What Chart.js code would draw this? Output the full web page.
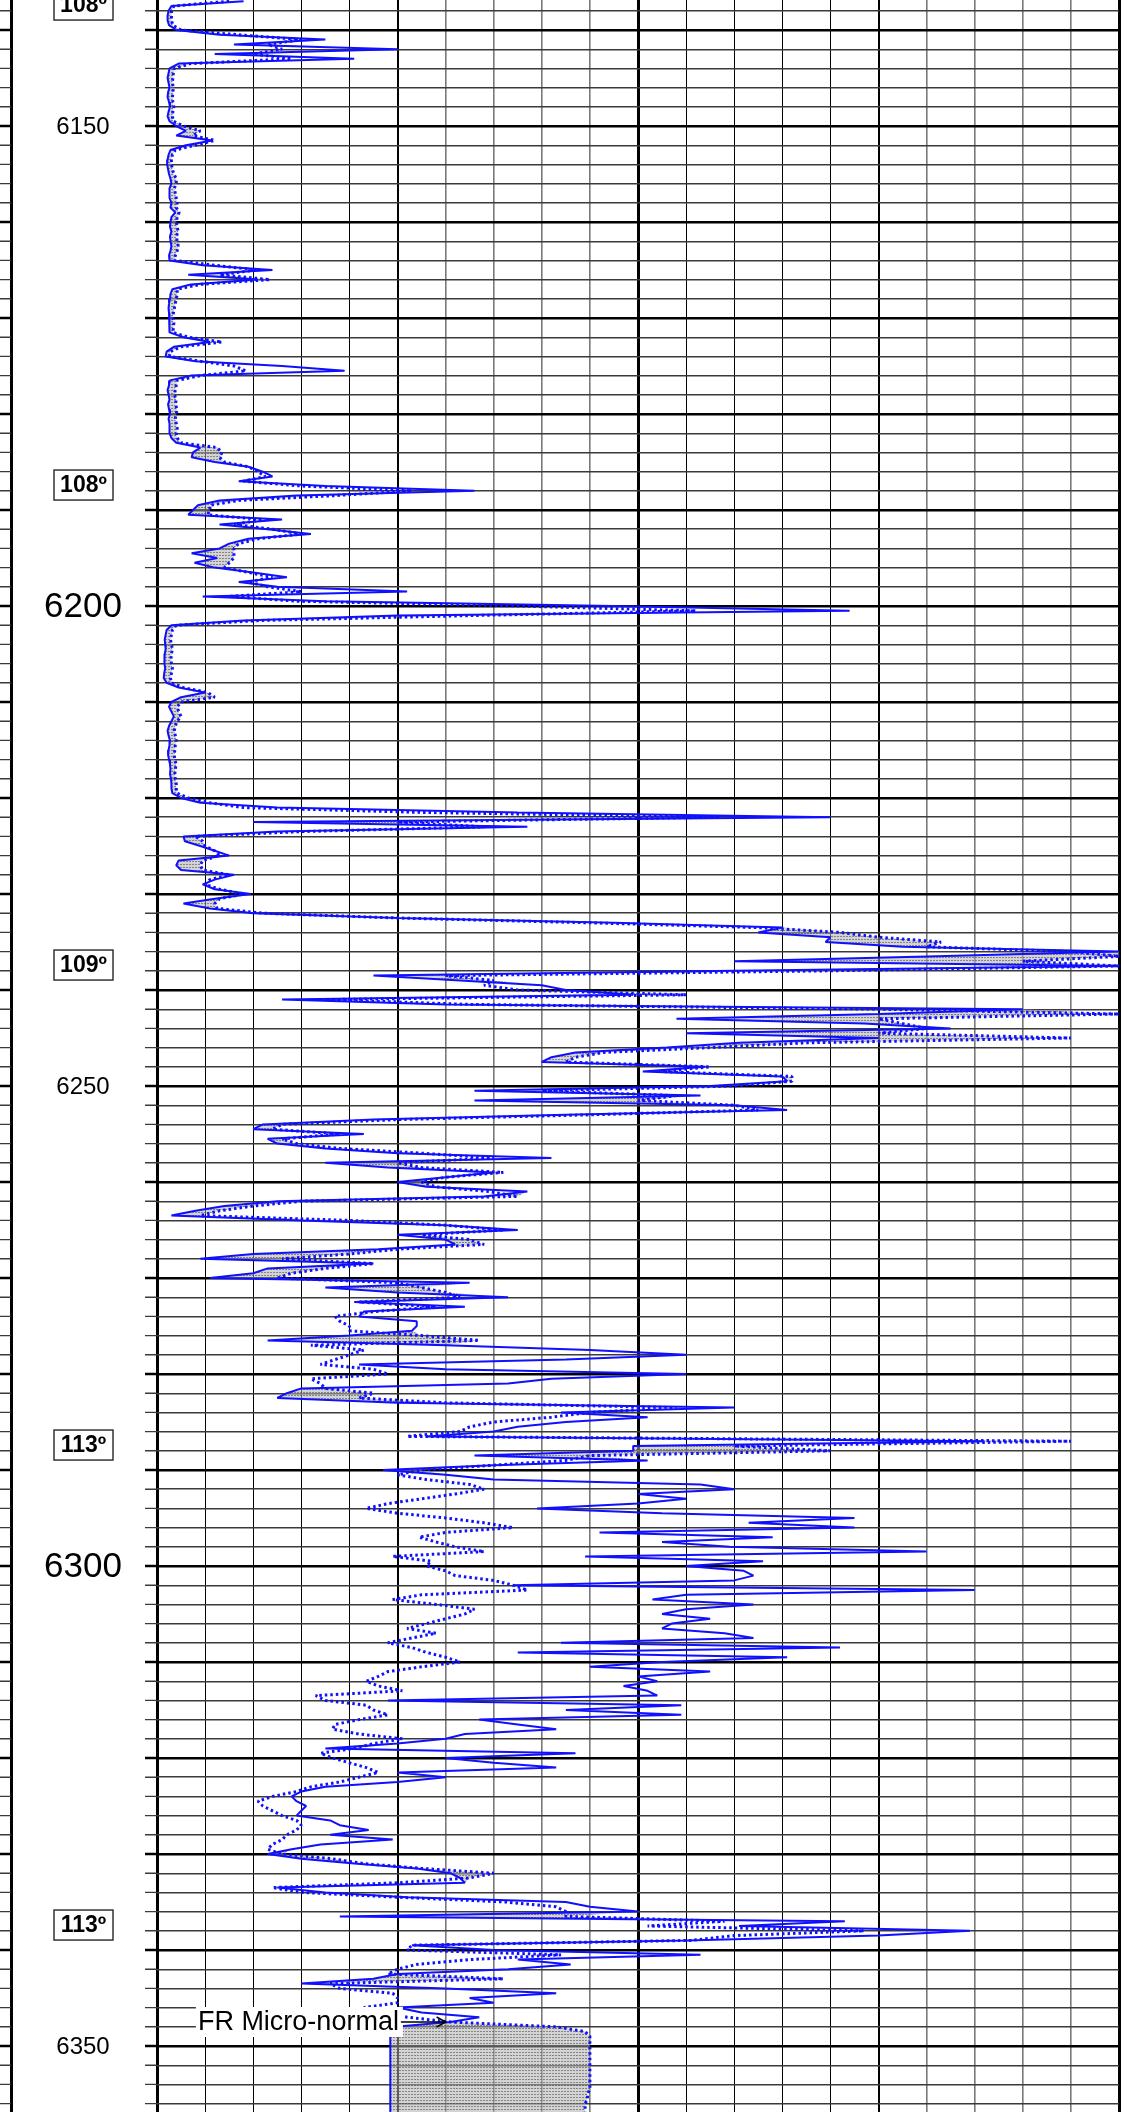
<!DOCTYPE html>
<html lang="en">
<head>
<meta charset="UTF-8">
<title>Microlog 6137 - 6357</title>
<script src="https://cdn.jsdelivr.net/npm/chart.js@4.4.1/dist/chart.umd.min.js"></script>
<style>
  html, body { margin: 0; padding: 0; background: #fff; }
  .log-container { position: relative; width: 1143px; height: 2112px; }
</style>
</head>
<body>
<div class="log-container"><canvas id="logChart"></canvas></div>
<script>
// samples every 0.5 ft, first sample at 6137.0
const DEPTH_TOP = 6137.0;
const DEPTH_STEP = 0.5;
const VIEW_TOP = 6136.875;
const VIEW_BOTTOM = 6356.875;

// micro-inverse (solid), one row = 5 ft
const microInverse = [
  1.8, 0.3, 0.24, 0.22, 0.22, 0.25, 0.4, 1.3, 3.5, 1.6,          // 6137
  5.0, 1.2, 4.1, 0.45, 0.26, 0.24, 0.22, 0.24, 0.26, 0.23,      // 6142
  0.22, 0.25, 0.27, 0.24, 0.22, 0.26, 0.4, 0.6, 0.4, 1.15,      // 6147
  0.6, 0.28, 0.24, 0.22, 0.21, 0.23, 0.25, 0.28, 0.3, 0.26,     // 6152
  0.25, 0.27, 0.3, 0.28, 0.38, 0.3, 0.28, 0.27, 0.3, 0.27,      // 6157
  0.28, 0.3, 0.28, 0.25, 0.26, 0.95, 2.4, 0.65, 2.1, 0.7,       // 6162
  0.32, 0.28, 0.27, 0.25, 0.24, 0.25, 0.26, 0.27, 0.26, 0.25,   // 6167
  0.55, 1.1, 0.35, 0.2, 0.18, 0.8, 2.6, 3.9, 0.7, 0.27,         // 6172
  0.25, 0.22, 0.24, 0.26, 0.23, 0.25, 0.27, 0.24, 0.26, 0.25,   // 6177
  0.27, 0.3, 0.4, 0.9, 0.75, 0.72, 1.2, 1.9, 2.2, 2.4,          // 6182
  1.7, 3.5, 6.6, 2.9, 1.3, 0.85, 0.75, 0.65, 2.6, 1.3,          // 6187
  2.3, 3.2, 1.9, 1.5, 1.3, 0.72, 1.25, 0.78, 1.2, 2.0,          // 6192
  2.7, 1.7, 2.5, 5.2, 0.95, 3.5, 9.5, 14.4, 5.0, 1.8,           // 6197
  0.3, 0.2, 0.18, 0.16, 0.17, 0.18, 0.16, 0.15, 0.16, 0.17,     // 6202
  0.15, 0.14, 0.2, 0.45, 1.0, 0.5, 0.3, 0.25, 0.3, 0.35,        // 6207
  0.3, 0.25, 0.22, 0.24, 0.27, 0.26, 0.24, 0.23, 0.25, 0.27,    // 6212
  0.28, 0.27, 0.29, 0.3, 0.3, 0.32, 0.5, 0.9, 2.5, 7.5,         // 6217
  14.0, 2.0, 7.7, 2.5, 0.55, 0.58, 0.9, 1.2, 1.5, 0.45,         // 6222
  0.4, 0.5, 1.6, 1.2, 0.95, 1.2, 1.95, 1.2, 0.55, 1.1,          // 6227
  2.0, 5.0, 9.5, 13.0, 12.5, 14.0, 13.9, 15.5, 20.0, 16.0,      // 6232
  12.0, 20.0, 12.0, 4.5, 6.3, 8.0, 8.5, 9.9, 2.6, 6.0,          // 6237
  18.0, 15.0, 10.8, 14.7, 16.5, 11.0, 15.0, 12.1, 10.6, 8.7,    // 6242
  8.2, 8.0, 11.4, 10.1, 13.0, 13.1, 11.5, 6.6, 11.3, 6.6,       // 6247
  12.0, 13.1, 8.5, 4.5, 2.2, 2.0, 4.3, 2.3, 2.5, 3.5,           // 6252
  5.0, 8.2, 3.5, 4.8, 7.0, 6.0, 5.0, 5.6, 7.7, 6.8,             // 6257
  2.5, 1.4, 0.8, 0.3, 3.0, 6.0, 7.5, 5.0, 6.0, 6.2,             // 6262
  4.6, 2.0, 0.9, 4.5, 2.3, 2.0, 1.1, 6.5, 3.5, 5.0,             // 6267
  7.3, 4.1, 6.4, 4.3, 4.2, 5.4, 5.4, 5.3, 4.0, 2.3,             // 6272
  6.0, 9.0, 11.0, 8.5, 4.2, 6.0, 11.0, 8.2, 7.3, 3.0,           // 6277
  2.7, 2.5, 5.0, 12.0, 8.4, 10.2, 8.5, 7.5, 7.0, 5.6,           // 6282
  17.2, 9.9, 9.9, 6.6, 10.2, 7.0, 4.7, 6.0, 7.0, 11.3,          // 6287
  12.0, 10.0, 11.0, 10.0, 7.9, 10.5, 14.5, 12.3, 14.5, 9.2,     // 6292
  12.8, 10.5, 11.9, 16.0, 8.9, 12.6, 11.0, 12.2, 12.4, 12.0,    // 6297
  7.4, 17.0, 11.0, 10.3, 12.4, 11.0, 10.5, 11.5, 10.7, 10.5,    // 6302
  11.8, 12.4, 8.4, 14.2, 7.5, 13.1, 10.5, 9.0, 11.5, 10.0,      // 6307
  10.4, 9.7, 10.2, 10.4, 4.8, 10.9, 8.5, 10.9, 6.7, 7.5,        // 6312
  8.3, 6.4, 6.0, 5.0, 3.5, 8.7, 6.0, 7.0, 8.3, 5.0,             // 6317
  6.0, 5.0, 3.5, 3.0, 2.8, 2.9, 3.1, 3.0, 2.9, 3.6,             // 6322
  3.8, 4.4, 3.6, 4.9, 3.4, 2.8, 2.3, 3.0, 4.1, 5.4,             // 6327
  6.1, 6.3, 6.4, 2.5, 3.5, 5.2, 8.5, 9.0, 10.0, 3.8,            // 6332
  14.3, 12.1, 16.9, 15.0, 11.0, 5.3, 7.0, 11.3, 7.5, 8.6,       // 6337
  7.3, 5.0, 4.5, 3.0, 6.0, 8.3, 6.5, 7.0, 5.0, 5.5,             // 6342
  6.7, 6.1, 4.95, 4.88, 4.85, 4.85, 4.85, 4.85, 4.85, 4.85,     // 6347
  4.85, 4.85, 4.85, 4.85, 4.85, 4.85, 4.85, 4.85, 4.85, 4.85,   // 6352
  4.85                                                          // 6357
];

// micro-normal (dotted)
const microNormal = [
  1.5, 0.35, 0.3, 0.3, 0.3, 0.33, 0.5, 1.7, 3.0, 2.3,           // 6137
  2.6, 2.0, 2.8, 0.7, 0.36, 0.34, 0.33, 0.32, 0.34, 0.33,       // 6142
  0.32, 0.33, 0.35, 0.33, 0.32, 0.34, 0.55, 0.9, 0.75, 1.2,     // 6147
  0.8, 0.38, 0.32, 0.3, 0.3, 0.32, 0.35, 0.4, 0.4, 0.36,        // 6152
  0.38, 0.4, 0.42, 0.4, 0.46, 0.42, 0.4, 0.42, 0.44, 0.4,       // 6157
  0.42, 0.44, 0.42, 0.38, 0.36, 1.2, 2.05, 1.3, 2.35, 0.9,      // 6162
  0.42, 0.42, 0.4, 0.38, 0.36, 0.34, 0.33, 0.35, 0.34, 0.33,    // 6167
  0.65, 1.35, 0.5, 0.28, 0.26, 0.9, 1.6, 1.85, 0.9, 0.42,       // 6172
  0.4, 0.38, 0.36, 0.4, 0.38, 0.42, 0.4, 0.38, 0.4, 0.42,       // 6177
  0.4, 0.42, 0.5, 1.25, 1.35, 1.3, 1.4, 1.9, 2.1, 2.25,         // 6182
  1.8, 3.0, 5.3, 3.7, 1.7, 1.1, 1.1, 1.05, 2.2, 1.6,            // 6187
  2.4, 3.0, 2.1, 1.7, 1.6, 1.6, 1.6, 1.5, 1.4, 1.9,             // 6192
  2.4, 1.9, 2.3, 3.0, 1.5, 2.9, 7.5, 11.2, 6.5, 2.2,            // 6197
  0.4, 0.32, 0.3, 0.28, 0.3, 0.32, 0.3, 0.29, 0.3, 0.32,        // 6202
  0.3, 0.28, 0.3, 0.55, 1.05, 1.2, 0.5, 0.42, 0.45, 0.5,        // 6207
  0.42, 0.38, 0.36, 0.38, 0.4, 0.38, 0.37, 0.36, 0.37, 0.4,     // 6212
  0.38, 0.37, 0.38, 0.4, 0.4, 0.42, 0.65, 1.1, 1.8, 5.5,        // 6217
  11.7, 5.0, 6.8, 3.0, 0.8, 0.95, 1.0, 1.2, 1.3, 0.95,          // 6222
  0.9, 0.95, 1.5, 1.1, 1.0, 1.3, 1.8, 1.3, 1.2, 1.25,           // 6227
  2.2, 5.0, 9.0, 12.5, 14.2, 15.0, 16.3, 16.0, 19.0, 20.0,      // 6232
  18.0, 20.0, 14.0, 6.0, 7.0, 6.8, 7.5, 11.0, 3.5, 6.5,         // 6237
  15.0, 20.0, 15.0, 15.5, 16.0, 15.0, 19.0, 13.5, 11.5, 9.3,    // 6242
  8.7, 8.5, 11.5, 10.5, 13.2, 13.2, 12.0, 8.0, 10.8, 10.0,      // 6247
  12.0, 12.5, 9.0, 5.0, 2.6, 2.4, 3.8, 2.6, 2.9, 3.8,           // 6252
  5.5, 7.0, 5.0, 5.5, 7.2, 6.0, 5.5, 5.8, 6.9, 7.5,             // 6257
  3.0, 2.0, 1.3, 0.9, 4.0, 6.0, 7.2, 5.5, 6.5, 6.8,             // 6262
  5.0, 4.0, 2.6, 4.5, 3.5, 2.8, 2.5, 5.0, 5.5, 6.0,             // 6267
  6.3, 4.2, 5.8, 4.5, 3.7, 3.8, 4.0, 4.0, 5.5, 6.7,             // 6272
  3.2, 4.3, 4.0, 3.7, 3.4, 4.5, 4.8, 3.2, 3.4, 3.5,             // 6277
  4.5, 4.2, 6.0, 10.8, 9.0, 8.2, 7.0, 6.5, 6.3, 5.2,            // 6282
  19.0, 12.0, 14.0, 9.0, 8.5, 7.0, 5.5, 5.0, 5.6, 6.5,          // 6287
  6.8, 6.2, 5.5, 4.8, 4.35, 5.0, 6.0, 6.8, 7.4, 6.0,            // 6292
  5.45, 5.8, 6.2, 6.8, 4.9, 5.7, 5.6, 6.0, 6.2, 7.0,            // 6297
  7.4, 7.7, 5.5, 4.9, 5.8, 6.6, 6.4, 6.0, 5.6, 5.2,             // 6302
  5.8, 5.3, 4.8, 5.3, 5.6, 6.0, 6.3, 5.5, 4.8, 4.6,             // 6307
  4.35, 4.6, 5.1, 3.3, 3.5, 4.35, 4.5, 4.8, 4.2, 3.7,           // 6312
  3.65, 4.2, 5.1, 4.5, 4.1, 3.4, 3.65, 4.0, 4.35, 4.6,          // 6317
  4.2, 3.8, 3.2, 2.9, 2.4, 2.1, 2.2, 2.4, 2.6, 2.9,             // 6322
  3.0, 2.9, 2.7, 2.6, 2.4, 2.3, 2.6, 3.65, 4.3, 5.5,            // 6327
  7.0, 6.5, 5.0, 2.4, 3.0, 5.0, 7.25, 8.3, 8.5, 8.5,            // 6332
  11.8, 10.2, 14.7, 12.0, 11.1, 5.3, 5.2, 8.4, 6.5, 5.4,        // 6337
  5.0, 4.8, 7.2, 3.6, 3.8, 4.9, 5.0, 5.0, 4.3, 4.8,             // 6342
  5.2, 6.1, 8.3, 8.9, 9.0, 9.0, 9.0, 9.0, 9.0, 9.0,             // 6347
  9.0, 9.0, 9.0, 9.0, 9.0, 9.0, 8.95, 8.95, 8.9, 8.9,           // 6352
  8.9                                                           // 6357
];

// depth track annotations
const depthLabels = [6150, 6200, 6250, 6300, 6350];
const tempDepths = [6137.4, 6187.4, 6237.4, 6287.4, 6337.4];
const tempLabels = ['108º', '108º', '109º', '113º', '113º'];
const curveLabel = 'FR Micro-normal';

const depths = microInverse.map((_, i) => DEPTH_TOP + i * DEPTH_STEP);
const toPoints = vals => vals.map((v, i) => ({ x: v, y: depths[i] }));
// right-hand envelope, used only to shade where normal reads above inverse
const separation = microInverse.map((v, i) => Math.max(v, microNormal[i]));

function makeHatch() {
  const c = document.createElement('canvas');
  c.width = 3; c.height = 3;
  const g = c.getContext('2d');
  g.fillStyle = 'rgba(175,175,175,0.55)';
  g.fillRect(0, 0, 3, 3);
  g.fillStyle = 'rgba(70,70,70,0.55)';
  g.fillRect(0, 0, 2, 1);
  return g.createPattern(c, 'repeat');
}

const depthTrack = {
  id: 'depthTrack',
  afterDraw(chart) {
    const { ctx, chartArea, scales: { y } } = chart;
    const left = chartArea.left;
    ctx.save();
    ctx.fillStyle = '#000';
    ctx.fillRect(10, 0, 3, chart.height);

    for (let d = 6138; d <= 6356; d += 2) {
      const py = y.getPixelForValue(d);
      const heavy = d % 10 === 0;
      ctx.lineWidth = heavy ? 2.5 : 1.4;
      ctx.strokeStyle = heavy ? '#000' : '#3a3a3a';
      ctx.beginPath();
      ctx.moveTo(0, py); ctx.lineTo(11, py);
      ctx.moveTo(left - 12, py); ctx.lineTo(left, py);
      ctx.stroke();
    }

    ctx.fillStyle = '#000';
    ctx.textAlign = 'center';
    ctx.textBaseline = 'middle';
    depthLabels.forEach(d => {
      ctx.font = d % 100 === 0 ? '35px "Liberation Sans", Arial' : '24px "Liberation Sans", Arial';
      ctx.fillText(String(d), 83, y.getPixelForValue(d) + 1);
    });

    tempDepths.forEach((d, i) => {
      const cy = y.getPixelForValue(d);
      ctx.fillStyle = '#fff';
      ctx.fillRect(54, cy - 15, 59, 30);
      ctx.strokeStyle = '#333';
      ctx.lineWidth = 1.5;
      ctx.strokeRect(54, cy - 15, 59, 30);
      ctx.fillStyle = '#000';
      ctx.font = 'bold 23px "Liberation Sans", Arial';
      ctx.fillText(tempLabels[i], 83.5, cy + 1);
    });
    ctx.restore();
  },
  afterDatasetsDraw(chart) {
    const { ctx, scales: { x, y } } = chart;
    const ly = y.getPixelForValue(6347.5);
    const lx = x.getPixelForValue(0.85);
    ctx.save();
    ctx.font = '27px "Liberation Sans", Arial';
    ctx.textBaseline = 'middle';
    const w = ctx.measureText(curveLabel).width;
    ctx.fillStyle = '#fff';
    ctx.fillRect(lx - 2, ly - 15, w + 6, 30);
    ctx.fillStyle = '#000';
    ctx.fillText(curveLabel, lx, ly + 1);
    const ax0 = lx + w + 2, ax1 = x.getPixelForValue(6.0);
    ctx.strokeStyle = '#000';
    ctx.lineWidth = 1.5;
    ctx.beginPath();
    ctx.moveTo(ax0, ly); ctx.lineTo(ax1, ly);
    ctx.moveTo(ax1 - 9, ly - 5); ctx.lineTo(ax1, ly); ctx.lineTo(ax1 - 9, ly + 5);
    ctx.stroke();
    ctx.restore();
  }
};

function xGridColor(c) {
  const v = c.tick ? c.tick.value : 0;
  if (v % 5 === 0) return '#000';
  return (v > 5 && v < 10) || v > 15 ? '#7a7a7a' : '#000';
}
function xGridWidth(c) {
  const v = c.tick ? c.tick.value : 0;
  if (v % 10 === 0) return 3;
  if (v % 5 === 0) return 2;
  return (v > 5 && v < 10) || v > 15 ? 1.6 : 1;
}

new Chart(document.getElementById('logChart'), {
  type: 'line',
  data: {
    datasets: [
      {
        label: 'Micro-inverse',
        data: toPoints(microInverse),
        borderColor: '#1010ff',
        borderWidth: 2,
        fill: false,
        pointRadius: 0,
        tension: 0,
        borderJoinStyle: 'bevel'
      },
      {
        label: 'Micro-normal',
        data: toPoints(microNormal),
        borderColor: '#1010ff',
        borderWidth: 3,
        borderDash: [2.5, 3],
        fill: false,
        pointRadius: 0,
        tension: 0,
        borderJoinStyle: 'bevel'
      },
      {
        label: 'separation',
        data: toPoints(separation),
        borderWidth: 0,
        borderColor: 'rgba(0,0,0,0)',
        backgroundColor: makeHatch(),
        fill: 0,
        pointRadius: 0,
        tension: 0
      }
    ]
  },
  options: {
    indexAxis: 'y',
    responsive: true,
    maintainAspectRatio: false,
    animation: false,
    layout: { padding: { left: 157, right: 24, top: 0, bottom: 0 } },
    plugins: { legend: { display: false }, tooltip: { enabled: false } },
    scales: {
      x: {
        type: 'linear',
        min: 0,
        max: 20,
        ticks: { display: false, stepSize: 1 },
        border: { display: false },
        grid: { drawTicks: false, color: xGridColor, lineWidth: xGridWidth }
      },
      y: {
        type: 'linear',
        reverse: true,
        min: VIEW_TOP,
        max: VIEW_BOTTOM,
        afterBuildTicks: scale => {
          const t = [];
          for (let d = 6138; d <= 6356; d += 2) t.push({ value: d });
          scale.ticks = t;
        },
        ticks: { display: false },
        border: { display: false },
        grid: {
          drawTicks: false,
          color: c => (c.tick && c.tick.value % 10 === 0 ? '#000' : '#3a3a3a'),
          lineWidth: c => (c.tick && c.tick.value % 10 === 0 ? 2.5 : 1.4)
        }
      }
    }
  },
  plugins: [depthTrack]
});
</script>
</body>
</html>
